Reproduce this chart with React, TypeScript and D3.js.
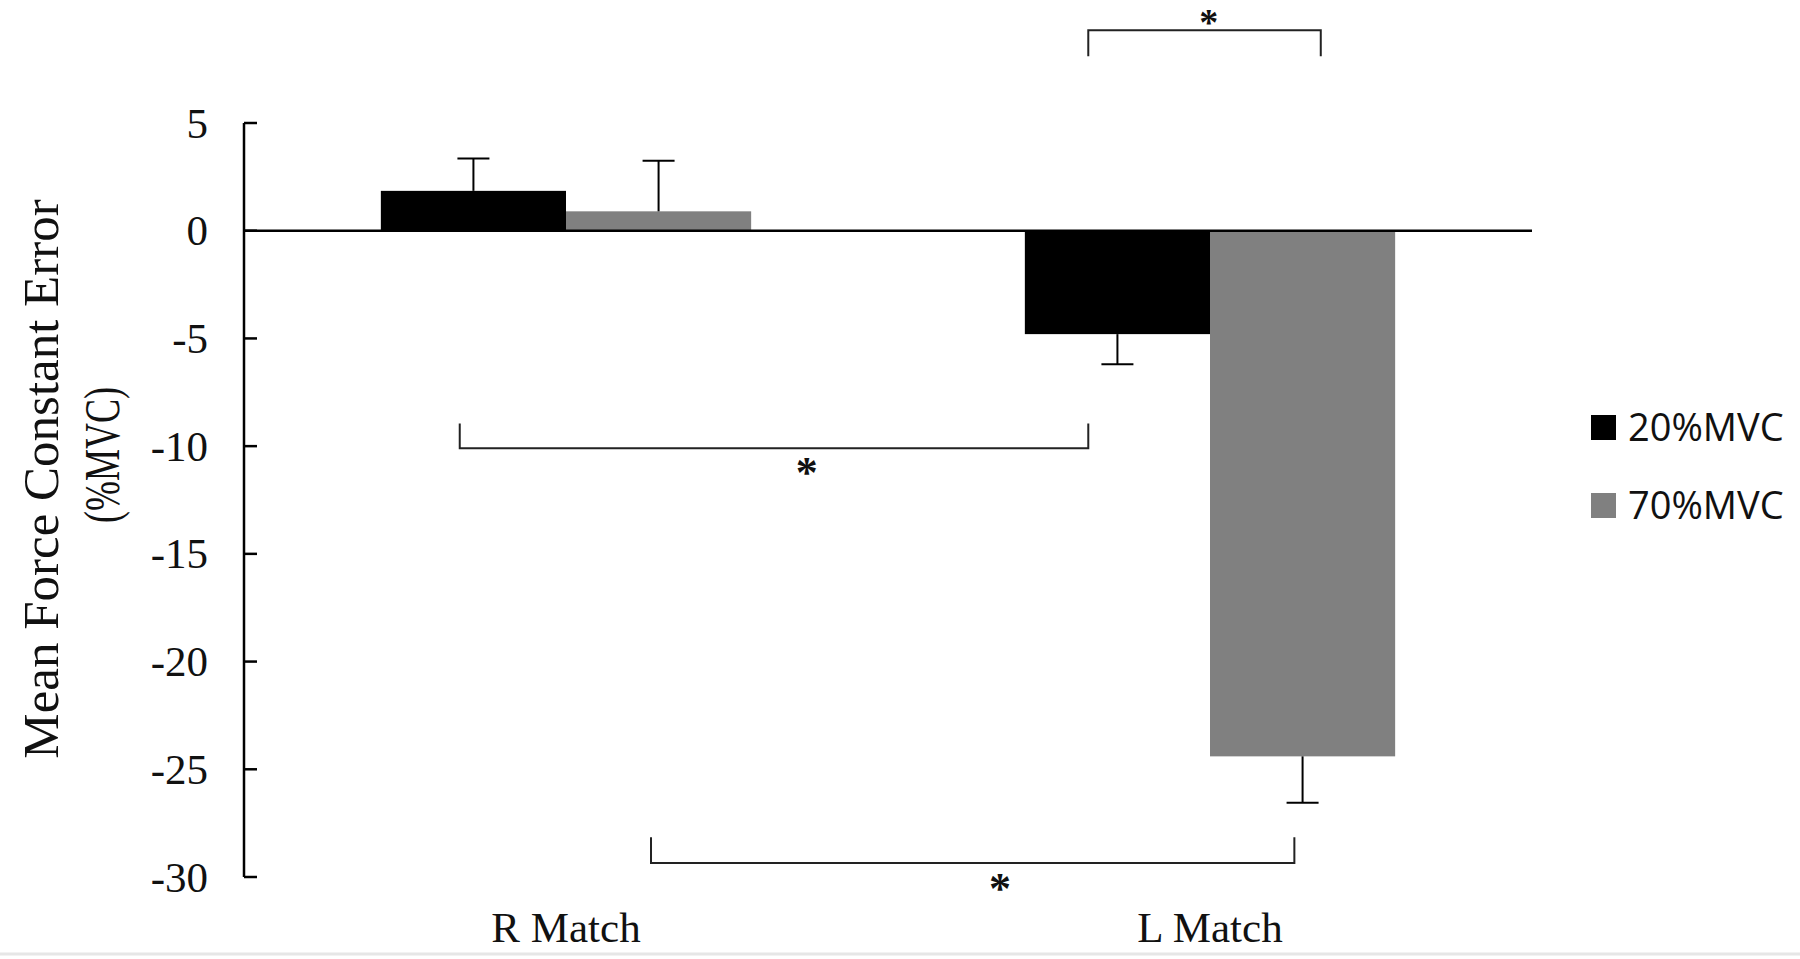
import React from "react";
import * as d3 from "d3";

const categories = ["R Match", "L Match"];
const seriesNames = ["20%MVC", "70%MVC"];
const seriesColors = ["#000000", "#808080"];
const values20 = [1.85, -4.8];
const values70 = [0.9, -24.4];
const err20 = [1.5, 1.4];
const err70 = [2.35, 2.15];
const yTicks = [5, 0, -5, -10, -15, -20, -25, -30];
// significance brackets: x in category units (0..2), y in data units
const bracketX1 = [1.311, 0.335, 0.632];
const bracketX2 = [1.672, 1.311, 1.631];
const bracketLineY = [9.3, -10.1, -29.35];
const bracketEndY = [8.1, -8.95, -28.15];
const starX = [1.498, 0.874, 1.174];
const starY = [10.1, -10.95, -30.25];
const starSize = [38, 44, 44];

const W = 1800;
const H = 959;
const X0 = 244;
const X1 = 1532;

export default function App() {
  const y = d3.scaleLinear().domain([-30, 5]).range([877, 123]);
  const xBand = d3.scaleBand<string>().domain(categories).range([X0, X1]);
  const groupW = xBand.bandwidth() * 0.575;
  const xSub = d3.scaleBand<string>().domain(seriesNames).range([0, groupW]);
  const xCat = d3.scaleLinear().domain([0, 2]).range([X0, X1]);
  const serif = "'Liberation Serif', 'Times New Roman', serif";
  const sans = "'Open Sans', 'Noto Sans', sans-serif";
  const allValues = [values20, values70];
  const allErr = [err20, err70];

  const bars: React.ReactNode[] = [];
  const errs: React.ReactNode[] = [];
  categories.forEach((c, ci) => {
    const gx = (xBand(c) as number) + (xBand.bandwidth() - groupW) / 2;
    seriesNames.forEach((s, si) => {
      const v = allValues[si][ci];
      const e = allErr[si][ci];
      const bx = gx + (xSub(s) as number);
      const bw = xSub.bandwidth();
      bars.push(
        <rect key={`b${ci}${si}`} x={bx} width={bw}
          y={Math.min(y(v), y(0))} height={Math.abs(y(v) - y(0))}
          fill={seriesColors[si]} />
      );
      const cx = bx + bw / 2;
      const ve = v + Math.sign(v) * e;
      errs.push(
        <g key={`e${ci}${si}`} stroke="#000" strokeWidth={2}>
          <line x1={cx} x2={cx} y1={y(v)} y2={y(ve)} />
          <line x1={cx - 16} x2={cx + 16} y1={y(ve)} y2={y(ve)} />
        </g>
      );
    });
  });

  return (
    <svg width={W} height={H} style={{ position: "absolute", left: 0, top: 0, background: "#fff" }}>
      <rect x={0} y={0} width={W} height={H} fill="#fff" />
      {bars}
      {errs}
      {/* zero line */}
      <line x1={X0} x2={X1} y1={y(0)} y2={y(0)} stroke="#000" strokeWidth={2.5} />
      {/* y axis */}
      <line x1={X0} x2={X0} y1={y(5)} y2={y(-30)} stroke="#000" strokeWidth={2.5} />
      {yTicks.map((t) => (
        <g key={t}>
          <line x1={X0} x2={X0 + 13} y1={y(t)} y2={y(t)} stroke="#000" strokeWidth={2.5} />
          <text x={208} y={y(t) + 14.5} textAnchor="end" fontFamily={serif} fontSize={43} fill="#111">
            {t}
          </text>
        </g>
      ))}
      {categories.map((c) => (
        <text key={c} x={(xBand(c) as number) + xBand.bandwidth() / 2} y={942}
          textAnchor="middle" fontFamily={serif} fontSize={43} fill="#111">
          {c}
        </text>
      ))}
      {/* y title */}
      <text transform="translate(58,479) rotate(-90)" textAnchor="middle" fontFamily={serif} fontSize={51} fill="#111">
        Mean Force Constant Error
      </text>
      <text transform="translate(119,455) rotate(-90)" textAnchor="middle" fontFamily={serif} fontSize={50}
        textLength={136} lengthAdjust="spacingAndGlyphs" fill="#111">
        (%MVC)
      </text>
      {/* brackets */}
      {bracketX1.map((bx1, i) => (
        <g key={`br${i}`}>
          <path
            d={`M${xCat(bx1)},${y(bracketEndY[i])}V${y(bracketLineY[i])}H${xCat(bracketX2[i])}V${y(bracketEndY[i])}`}
            fill="none" stroke="#222" strokeWidth={2} />
          <text x={xCat(starX[i])} y={Math.max(y(starY[i]) + starSize[i] * 0.46, starSize[i] * 0.92)} textAnchor="middle"
            fontFamily={serif} fontSize={starSize[i]} fontWeight="bold" fill="#111">
            *
          </text>
        </g>
      ))}
      {/* legend */}
      {seriesNames.map((s, i) => (
        <g key={s}>
          <rect x={1591} y={415 + i * 78} width={25} height={25} fill={seriesColors[i]} />
          <text x={1628} y={441 + i * 78} fontFamily={sans} fontSize={38} fill="#111">
            {s}
          </text>
        </g>
      ))}
      <line x1={0} x2={W} y1={954} y2={954} stroke="#e6e6e6" strokeWidth={3} />
    </svg>
  );
}
